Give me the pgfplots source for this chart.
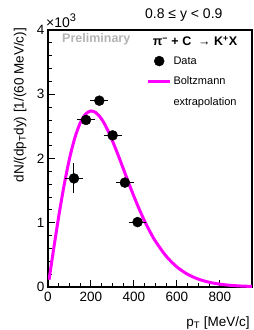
\documentclass[border=0pt]{standalone}
\usepackage{fontspec}
\setmainfont{Liberation Sans}
\usepackage{pgfplots}
\pgfplotsset{compat=1.18}
\usepackage{pgfplotstable}
\definecolor{rootmag}{RGB}{255,0,255}
\definecolor{prelim}{RGB}{180,180,180}
\pgfplotstableread{
x y ex ey
121 1.69 30 0.195
177 2.60 30 0.03
239 2.90 30 0.03
301 2.36 30 0.03
358 1.625 30 0.03
417 1.01 30 0.03
}\datatab
\begin{document}
\begin{tikzpicture}
\useasboundingbox (0,0) rectangle (254pt,330pt);
\begin{axis}[
  at={(48pt,43pt)}, anchor=south west,
  scale only axis, width=204pt, height=257pt,
  xmin=0, xmax=950, ymin=0, ymax=4,
  xtick={0,200,400,600,800}, minor x tick num=3,
  ytick={0,1,2,3,4}, minor y tick num=4,
  tick pos=left, tick align=inside,
  major tick length=7pt, minor tick length=4pt,
  tick style={line width=0.9pt, black},
  axis line style={line width=1.2pt},
  /pgf/number format/assume math mode=true,
  ticklabel style={font=\fontsize{13.5}{16}\selectfont},
  xticklabel style={yshift=-2pt},
  scaled y ticks=false,
  xlabel={p\textsubscript{T} [MeV/c]},
  xlabel style={at={(axis description cs:0.99,-0.152)}, anchor=base east, font=\fontsize{13.5}{16}\selectfont, inner sep=0pt},
  ylabel={dN/(dp\textsubscript{T}dy) [1/(60 MeV/c)]},
  ylabel style={at={(axis description cs:-0.105,1.008)}, anchor=south east, font=\fontsize{13.5}{16}\selectfont, inner sep=0pt},
  legend image code/.code={\draw[mark repeat=2,mark phase=2,#1] plot coordinates {(0pt,0pt) (10.8pt,0pt) (21.6pt,0pt)};},
  legend style={draw=none, fill=none, at={(rel axis cs:0.484,0.91)}, anchor=north west,
    inner sep=0pt, row sep=5pt, font=\fontsize{11}{13}\selectfont,
    nodes={inner sep=2pt, text height=9pt, text depth=2.5pt, anchor=west}},
  legend cell align=left,
  clip mode=individual,
]
\addlegendimage{only marks, mark=*, mark size=5pt, black}
\addlegendentry{Data}
\addlegendimage{rootmag, line width=3pt}
\addlegendentry{Boltzmann}
\addlegendimage{empty legend}
\addlegendentry{extrapolation}

\addplot[rootmag, line width=3pt, smooth, forget plot] coordinates {
(5,0.114) (10,0.227) (25,0.563) (50,1.099) (75,1.583) (100,1.995) (125,2.321)
(150,2.553) (175,2.691) (200,2.740) (225,2.709) (250,2.612) (275,2.463)
(300,2.276) (325,2.067) (350,1.847) (375,1.625) (400,1.412) (425,1.211)
(450,1.026) (475,0.861) (500,0.715) (550,0.481) (600,0.313) (650,0.198)
(700,0.123) (750,0.0744) (800,0.0443) (850,0.0259) (900,0.0150) (950,0.0085)
};

\addplot[only marks, mark=*, mark size=5pt, black, forget plot,
  error bars/.cd, x dir=both, x explicit, y dir=both, y explicit,
  error bar style={line width=1pt, black},
  error mark options={line width=1pt, mark size=2.5pt, black}]
  table[x=x, y=y, x error=ex, y error=ey] {\datatab};

\node[anchor=west, text=prelim, font=\bfseries\fontsize{12.5}{14}\selectfont, inner sep=0pt]
  at (rel axis cs:0.0686,0.965) {Preliminary};
\node[anchor=west, font=\bfseries\fontsize{12.5}{14}\selectfont, inner sep=0pt]
  at (rel axis cs:0.513,0.958) {π\textsuperscript{\bfseries −} + C\ \ → K\textsuperscript{+}X};
\node[anchor=west, font=\fontsize{14}{16}\selectfont, inner sep=0pt]
  at (rel axis cs:0.475,1.058) {0.8 ≤ y < 0.9};
\node[anchor=base west, font=\fontsize{14}{16}\selectfont, inner sep=0pt]
  at (rel axis cs:-0.01,1.008) {×10\raisebox{0.45em}{\fontsize{11}{12}\selectfont 3}};
\end{axis}
\end{tikzpicture}
\end{document}
